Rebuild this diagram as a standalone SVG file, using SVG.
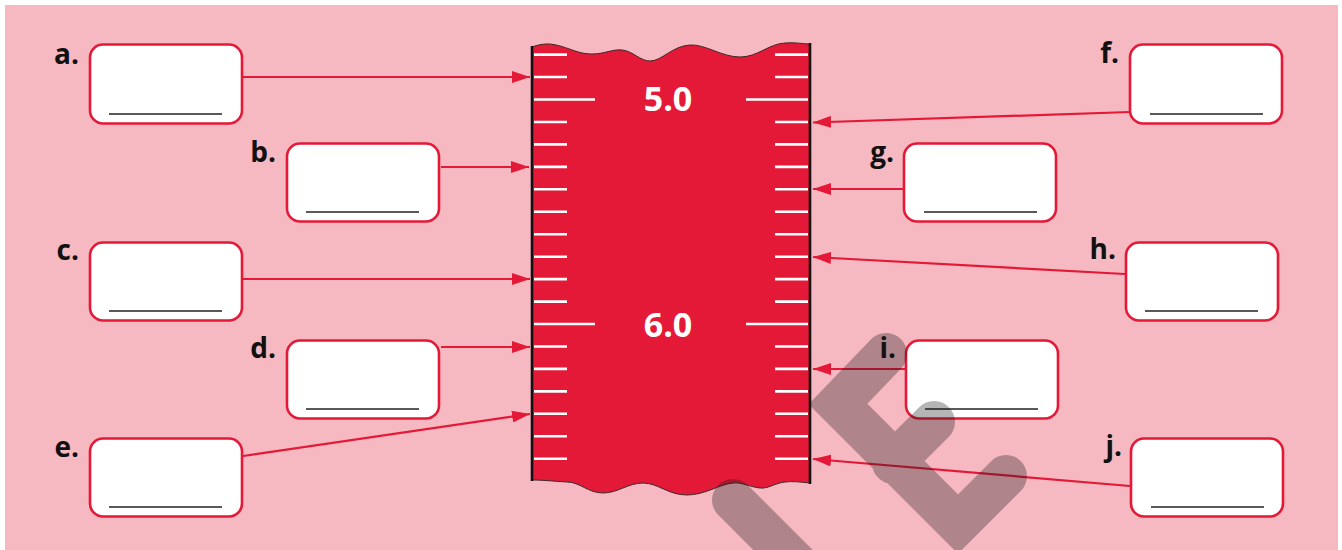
<svg xmlns="http://www.w3.org/2000/svg" width="1342" height="550" viewBox="0 0 1342 550">
<defs>
<style>
.box{fill:#fff;stroke:#e31937;stroke-width:2.6}
.ul{stroke:#222;stroke-width:1.6}
.lbl{font-family:"Open Sans","Liberation Sans",sans-serif;font-weight:700;font-size:28px;fill:#111;text-anchor:end}
.num{font-family:"Open Sans","Liberation Sans",sans-serif;font-weight:700;font-size:34px;fill:#fff;text-anchor:middle}
.con{stroke:#e31937;stroke-width:2.2;fill:none;marker-end:url(#ah)}
.tick{stroke:#fff;stroke-width:2.6}
</style>
<marker id="ah" markerUnits="userSpaceOnUse" markerWidth="18" markerHeight="12" refX="18" refY="6" orient="auto">
<path d="M0,0 L18,6 L0,12 Z" fill="#e31937"/>
</marker>
</defs>
<rect x="0" y="0" width="1342" height="550" fill="#fff"/>
<rect x="5" y="5" width="1333" height="545" fill="#f6b8c1"/>

<g id="ruler">
<path d="M532,47 C540,44 548,43 556,45 C570,48 578,54 592,54 C605,54 612,49 622,50 C633,51 640,61 650,61 C662,61 672,46 690,45 C705,44 722,57 740,57 C758,57 768,44 785,43 C795,42 803,44 810,44 L810,483 C800,482 792,481 785,482 C775,483 768,489 760,488 C750,487 742,482 733,483 C720,484 705,495 687,495 C668,495 658,483 643,483 C628,483 618,493 603,493 C588,493 580,482 567,482 C552,481 540,480 532,480 Z" fill="#e31937" stroke="#3a2a2a" stroke-width="1"/>
<g class="tick">
<line x1="534" y1="54.6" x2="567" y2="54.6"/><line x1="775" y1="54.6" x2="808" y2="54.6"/>
<line x1="534" y1="77" x2="567" y2="77"/><line x1="775" y1="77" x2="808" y2="77"/>
<line x1="534" y1="99.5" x2="595" y2="99.5"/><line x1="746" y1="99.5" x2="808" y2="99.5"/>
<line x1="534" y1="122" x2="567" y2="122"/><line x1="775" y1="122" x2="808" y2="122"/>
<line x1="534" y1="144.4" x2="567" y2="144.4"/><line x1="775" y1="144.4" x2="808" y2="144.4"/>
<line x1="534" y1="166.9" x2="567" y2="166.9"/><line x1="775" y1="166.9" x2="808" y2="166.9"/>
<line x1="534" y1="189.3" x2="567" y2="189.3"/><line x1="775" y1="189.3" x2="808" y2="189.3"/>
<line x1="534" y1="211.8" x2="567" y2="211.8"/><line x1="775" y1="211.8" x2="808" y2="211.8"/>
<line x1="534" y1="234.2" x2="567" y2="234.2"/><line x1="775" y1="234.2" x2="808" y2="234.2"/>
<line x1="534" y1="256.7" x2="567" y2="256.7"/><line x1="775" y1="256.7" x2="808" y2="256.7"/>
<line x1="534" y1="279.1" x2="567" y2="279.1"/><line x1="775" y1="279.1" x2="808" y2="279.1"/>
<line x1="534" y1="301.6" x2="567" y2="301.6"/><line x1="775" y1="301.6" x2="808" y2="301.6"/>
<line x1="534" y1="324" x2="595" y2="324"/><line x1="746" y1="324" x2="808" y2="324"/>
<line x1="534" y1="346.5" x2="567" y2="346.5"/><line x1="775" y1="346.5" x2="808" y2="346.5"/>
<line x1="534" y1="368.9" x2="567" y2="368.9"/><line x1="775" y1="368.9" x2="808" y2="368.9"/>
<line x1="534" y1="391.4" x2="567" y2="391.4"/><line x1="775" y1="391.4" x2="808" y2="391.4"/>
<line x1="534" y1="413.8" x2="567" y2="413.8"/><line x1="775" y1="413.8" x2="808" y2="413.8"/>
<line x1="534" y1="436.3" x2="567" y2="436.3"/><line x1="775" y1="436.3" x2="808" y2="436.3"/>
<line x1="534" y1="458.7" x2="567" y2="458.7"/><line x1="775" y1="458.7" x2="808" y2="458.7"/>
</g>
<line x1="532" y1="46" x2="532" y2="481" stroke="#111" stroke-width="2.6"/>
<line x1="810" y1="43" x2="810" y2="484" stroke="#111" stroke-width="2.6"/>
<text class="num" x="668" y="111">5.0</text>
<text class="num" x="668" y="337">6.0</text>
</g>

<g id="connectors">
<line class="con" x1="243" y1="77" x2="530" y2="77"/>
<line class="con" x1="441" y1="167" x2="529" y2="167"/>
<line class="con" x1="243" y1="279" x2="530" y2="279"/>
<line class="con" x1="441" y1="347" x2="530" y2="347"/>
<line class="con" x1="243" y1="456" x2="530" y2="414"/>
<line class="con" x1="1130" y1="112" x2="813" y2="122.5"/>
<line class="con" x1="903" y1="189" x2="813" y2="189"/>
<line class="con" x1="1125" y1="274" x2="813" y2="257"/>
<line class="con" x1="905" y1="369" x2="813" y2="369"/>
<line class="con" x1="1130" y1="486" x2="813" y2="459"/>
</g>

<g id="node-a"><rect class="box" x="90" y="44.5" width="152" height="79" rx="13"/><line class="ul" x1="109" y1="114" x2="222" y2="114"/><text class="lbl" x="79" y="64">a.</text></g>
<g id="node-b"><rect class="box" x="287" y="143.5" width="152" height="78" rx="13"/><line class="ul" x1="306" y1="212" x2="419" y2="212"/><text class="lbl" x="276" y="162">b.</text></g>
<g id="node-c"><rect class="box" x="90" y="242.5" width="152" height="78" rx="13"/><line class="ul" x1="109" y1="311" x2="222" y2="311"/><text class="lbl" x="79" y="260">c.</text></g>
<g id="node-d"><rect class="box" x="287" y="340.5" width="152" height="78" rx="13"/><line class="ul" x1="306" y1="409" x2="419" y2="409"/><text class="lbl" x="276" y="358">d.</text></g>
<g id="node-e"><rect class="box" x="90" y="438.5" width="152" height="78" rx="13"/><line class="ul" x1="109" y1="507" x2="222" y2="507"/><text class="lbl" x="79" y="457">e.</text></g>
<g id="node-f"><rect class="box" x="1130" y="44.5" width="152" height="79" rx="13"/><line class="ul" x1="1150" y1="114" x2="1263" y2="114"/><text class="lbl" x="1119" y="63">f.</text></g>
<g id="node-g"><rect class="box" x="904" y="143.5" width="152" height="78" rx="13"/><line class="ul" x1="924" y1="212" x2="1037" y2="212"/><text class="lbl" x="894" y="162">g.</text></g>
<g id="node-h"><rect class="box" x="1126" y="242.5" width="152" height="78" rx="13"/><line class="ul" x1="1145" y1="311" x2="1258" y2="311"/><text class="lbl" x="1116" y="259">h.</text></g>
<g id="node-i"><rect class="box" x="906" y="340.5" width="152" height="78" rx="13"/><line class="ul" x1="925" y1="409" x2="1038" y2="409"/><text class="lbl" x="896" y="358">i.</text></g>
<g id="node-j"><rect class="box" x="1131" y="438.5" width="152" height="78" rx="13"/><line class="ul" x1="1151" y1="507" x2="1264" y2="507"/><text class="lbl" x="1122" y="456">j.</text></g>

<g id="watermark" fill="none" stroke="#1a1a1a" stroke-opacity="0.32" stroke-width="42" stroke-linecap="round" stroke-linejoin="miter">
<path d="M886,354 L838,404 L958,524 L1006,476 M893,463 L934,422"/>
<path d="M733,500 L843,610"/>
</g>
</svg>
